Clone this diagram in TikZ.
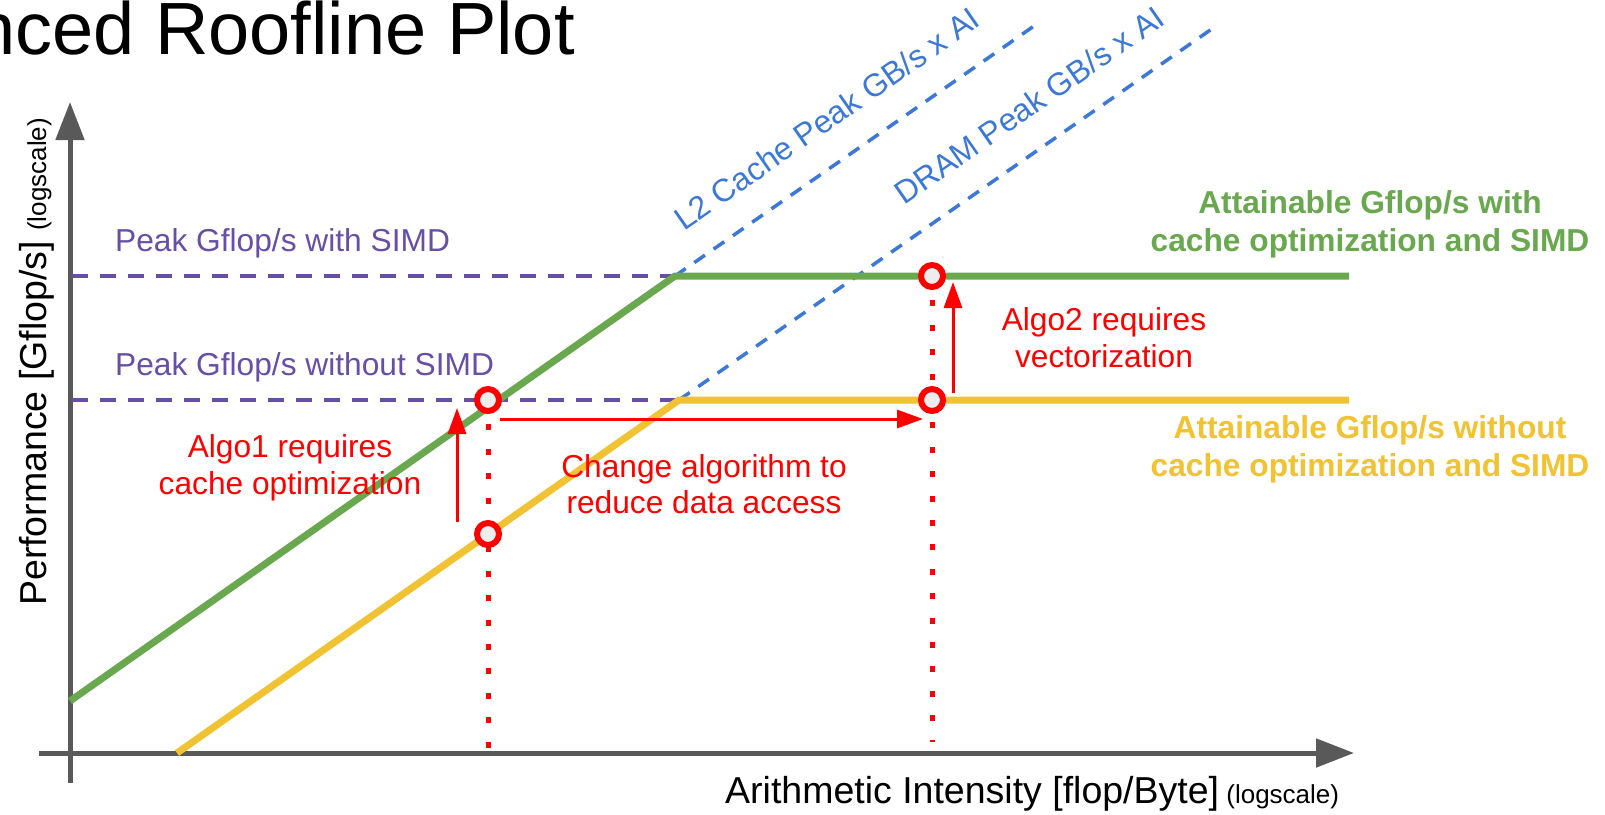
\documentclass[tikz,border=0pt]{standalone}
\usepackage{fontspec}
\setmainfont{Liberation Sans}
\usetikzlibrary{arrows.meta}

\definecolor{axisgray}{HTML}{595959}
\definecolor{roofgreen}{HTML}{6AA84F}
\definecolor{roofyellow}{HTML}{F1C232}
\definecolor{peakpurple}{HTML}{674EA7}
\definecolor{bwblue}{HTML}{3C78D8}
\definecolor{markfill}{HTML}{EDEDED}

\newcommand\ttlfont{\fontsize{74}{80}\selectfont}
\newcommand\axfont{\fontsize{37.5}{44}\selectfont}
\newcommand\smallaxfont{\fontsize{26}{30}\selectfont}
\newcommand\lblfont{\fontsize{31.7}{38}\selectfont}
\newcommand\bwfont{\fontsize{32}{38}\selectfont}

\begin{document}
\begin{tikzpicture}[x=1pt,y=-1pt,
  axis/.style={draw=axisgray, line width=5pt, -{Triangle[length=38pt,width=28pt]}},
  peakline/.style={draw=peakpurple, line width=4pt, dash pattern=on 16pt off 12pt},
  bwline/.style={draw=bwblue, line width=3.5pt, dash pattern=on 13pt off 10.5pt},
  roofwith/.style={draw=roofgreen, line width=7pt},
  roofwithout/.style={draw=roofyellow, line width=7pt},
  guide/.style={draw=red, line width=5pt, dash pattern=on 6pt off 18.4pt},
  move/.style={draw=red, line width=3pt, -{Triangle[length=26pt,width=18pt]}},
  marker/.style={circle, draw=red, line width=6pt, fill=markfill, minimum size=22pt, inner sep=0pt},
  lbl/.style={inner sep=0pt, font=\lblfont},
  bwlbl/.style={inner sep=0pt, font=\bwfont, text=bwblue, anchor=base west, rotate=34.84},
  redlbl/.style={lbl, text=red, anchor=base},
]
\useasboundingbox (0,0) rectangle (1605,814);
\fill[white] (0,0) rectangle (1605,814);

% key points of the roofline model
\coordinate (ybot) at (70,783);
\coordinate (ytop) at (70,102);
\coordinate (xleft) at (39,753);
\coordinate (xtip) at (1354,753);
\coordinate (gstart) at (70,701);
\coordinate (gknee) at (675,276);
\coordinate (gend) at (1349,276);
\coordinate (ystart) at (177,753);
\coordinate (yknee) at (679,400);
\coordinate (yend) at (1349,400);
\coordinate (l2top) at (1034,26);
\coordinate (dramtop) at (1216,26);
\coordinate (simdpk) at (72,276);
\coordinate (nosimdpk) at (72,400);

% axes
\draw[axis] (ybot) -- (ytop);
\draw[axis] (xleft) -- (xtip);

% compute ceilings
\draw[peakline] (simdpk) -- (gknee);
\draw[peakline] (nosimdpk) -- (yknee);

% bandwidth ceilings
\draw[bwline] (gknee) -- (l2top);
\draw[bwline] (yknee) -- (dramtop);

% attainable performance
\draw[roofwith] (gstart) -- (gknee) -- (gend);
\draw[roofwithout] (ystart) -- (yknee) -- (yend);

% vertical guides below the algorithm markers
\coordinate (p1up) at (488,400);
\coordinate (p1low) at (488,534);
\coordinate (p2up) at (932,276);
\coordinate (p2low) at (932,400);
\coordinate (a1foot) at (488,753);
\coordinate (a2foot) at (932,742);
\draw[guide] (p1up) -- (a1foot);
\draw[guide] (p2up) -- (a2foot);

% algorithm markers
\node[marker] (a1up) at (p1up) {};
\node[marker] (a1low) at (p1low) {};
\node[marker] (a2up) at (p2up) {};
\node[marker] (a2low) at (p2low) {};

% optimisation steps
\coordinate (a1from) at (457,522);
\coordinate (a1to) at (457,408);
\coordinate (chfrom) at (500,419);
\coordinate (chto) at (923,419);
\coordinate (a2from) at (953,393);
\coordinate (a2to) at (953,282);
\draw[move] (a1from) -- (a1to);
\draw[move] (chfrom) -- (chto);
\draw[move] (a2from) -- (a2to);

% title and axis labels
\node[anchor=base east, inner sep=0pt, font=\ttlfont] (title) at (575,54) {nced Roofline Plot};
\node[rotate=90, anchor=base west, inner sep=0pt] (ylabel) at (46,606)
  {{\axfont Performance [Gflop/s] }{\smallaxfont (logscale)}};
\node[anchor=base west, inner sep=0pt] (xlabel) at (725,803)
  {{\axfont Arithmetic Intensity [flop/Byte]}{\smallaxfont\ (logscale)}};

% ceiling labels
\node[lbl, anchor=base west, text=peakpurple] (simdlbl) at (115,251) {Peak Gflop/s with SIMD};
\node[lbl, anchor=base west, text=peakpurple] (nosimdlbl) at (115,375) {Peak Gflop/s without SIMD};
\node[bwlbl] (l2lbl) at (684,232) {L2 Cache Peak GB/s x AI};
\node[bwlbl] (dramlbl) at (904,206) {DRAM Peak GB/s x AI};

% roofline labels
\node[lbl, anchor=base, text=roofgreen, font=\lblfont\bfseries] (withA) at (1370,213) {Attainable Gflop/s with};
\node[lbl, anchor=base, text=roofgreen, font=\lblfont\bfseries] (withB) at (1370,251) {cache optimization and SIMD};
\node[lbl, anchor=base, text=roofyellow, font=\lblfont\bfseries] (woA) at (1370,438) {Attainable Gflop/s without};
\node[lbl, anchor=base, text=roofyellow, font=\lblfont\bfseries] (woB) at (1370,476) {cache optimization and SIMD};

% step labels
\node[redlbl] (algoAa) at (290,457) {Algo1 requires};
\node[redlbl] (algoAb) at (290,494) {cache optimization};
\node[redlbl] (chA) at (704,477) {Change algorithm to};
\node[redlbl] (chB) at (704,513) {reduce data access};
\node[redlbl] (algoBa) at (1104,330) {Algo2 requires};
\node[redlbl] (algoBb) at (1104,367) {vectorization};
\end{tikzpicture}
\end{document}
